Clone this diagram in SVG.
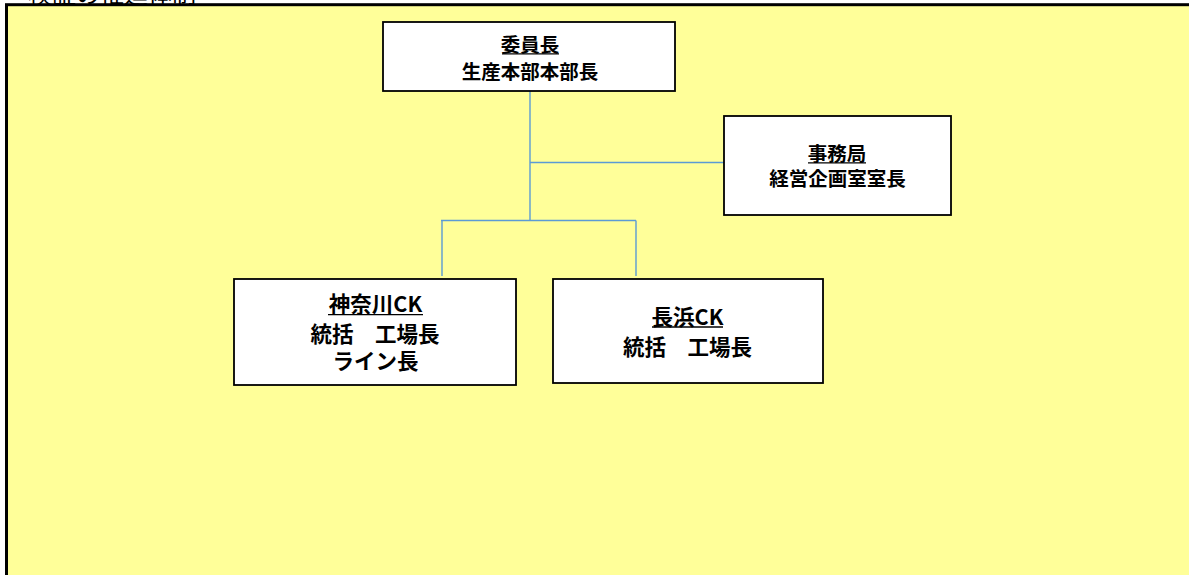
<svg xmlns="http://www.w3.org/2000/svg" width="1189" height="575" viewBox="0 0 1189 575">
  <style>
    .box { fill: #FFFFFF; stroke: #000000; stroke-width: 1.8; }
    .t { font-family: "Noto Sans CJK JP", "Liberation Sans", sans-serif; font-weight: bold; fill: #000000; text-anchor: middle; }
    .s { font-size: 19.5px; }
    .l { font-size: 21.5px; }
    .u { stroke: #000000; stroke-width: 1.3; }
    .c { fill: none; stroke: #5B9BD5; stroke-width: 1.4; }
  </style>
  <rect x="0" y="0" width="1189" height="575" fill="#FFFFFF"/>
  <text x="28" y="3" font-family="Noto Sans CJK JP, Liberation Sans, sans-serif" font-size="24" fill="#000000">検証の推進体制</text>
  <rect id="frame" x="6.5" y="4.7" width="1200" height="600" fill="#FFFF99" stroke="#000000" stroke-width="3"/>

  <g id="connectors">
    <path class="c" d="M530 91 V220"/>
    <path class="c" d="M530 162.5 H724"/>
    <path class="c" d="M441 220.5 H636"/>
    <path class="c" d="M442 220.5 V276"/>
    <path class="c" d="M636 220.5 V276"/>
  </g>

  <g id="node-chair">
    <rect class="box" x="383" y="22" width="292" height="69"/>
    <text class="t s" x="530" y="51.5">委員長</text>
    <line class="u" x1="502" y1="53.8" x2="559" y2="53.8"/>
    <text class="t s" x="530" y="78.5">生産本部本部長</text>
  </g>

  <g id="node-secretariat">
    <rect class="box" x="724" y="116" width="227" height="99"/>
    <text class="t s" x="837" y="160.5">事務局</text>
    <line class="u" x1="808" y1="162.8" x2="866" y2="162.8"/>
    <text class="t s" x="837.5" y="185.5">経営企画室室長</text>
  </g>

  <g id="node-kanagawa">
    <rect class="box" x="234" y="279" width="282" height="106"/>
    <text class="t l" x="375.5" y="312">神奈川CK</text>
    <line class="u" x1="328" y1="314.6" x2="423" y2="314.6"/>
    <text class="t l" x="375" y="341.5">統括　工場長</text>
    <text class="t l" x="375.5" y="368.5">ライン長</text>
  </g>

  <g id="node-nagahama">
    <rect class="box" x="553" y="279" width="270" height="104"/>
    <text class="t l" x="687.5" y="325">長浜CK</text>
    <line class="u" x1="652" y1="327" x2="723" y2="327"/>
    <text class="t l" x="687.5" y="354.5">統括　工場長</text>
  </g>
</svg>
